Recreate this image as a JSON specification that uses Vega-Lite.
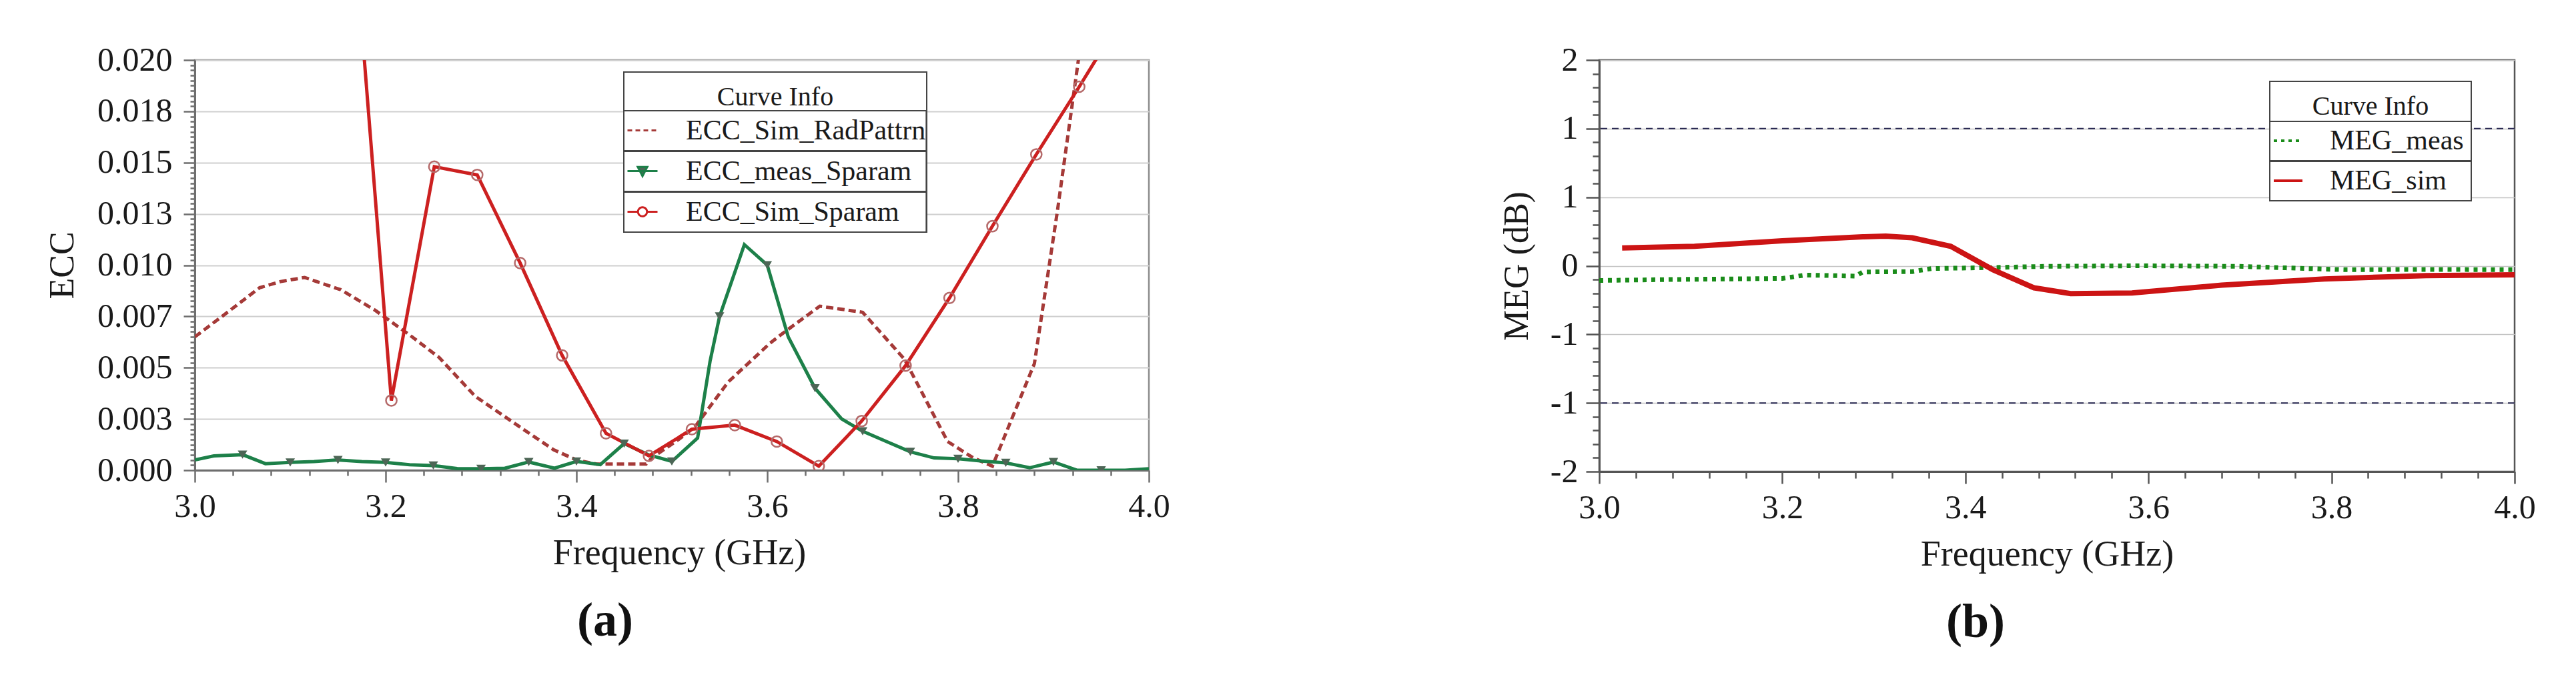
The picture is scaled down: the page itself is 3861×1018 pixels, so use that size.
{
  "$schema": "https://vega.github.io/schema/vega-lite/v6.json",
  "background": "white",
  "padding": {"left": 66, "top": 63, "right": 5, "bottom": 5},
  "spacing": 491,
  "config": {
    "font": "Liberation Serif",
    "axis": {
      "labelFont": "Liberation Serif", "titleFont": "Liberation Serif",
      "labelColor": "#1a1a1a", "titleColor": "#1a1a1a", "titleFontWeight": "normal",
      "labelOverlap": false, "labelFlush": false,
      "domainColor": "#6e6e6e", "domainWidth": 3, "tickColor": "#6e6e6e", "tickWidth": 2.5,
      "gridColor": "#cfcfcf", "gridWidth": 2
    },
    "legend": {
      "labelFont": "Liberation Serif", "titleFont": "Liberation Serif",
      "titleFontWeight": "normal", "labelColor": "#1a1a1a", "titleColor": "#1a1a1a",
      "labelLimit": 0, "titleLimit": 0
    },
    "title": {"font": "Liberation Serif"}
  },
  "datasets": {
    "ecc": [
      {"series": "ECC_Sim_RadPattrn", "f": 3.0, "v": 0.0065},
      {"series": "ECC_Sim_RadPattrn", "f": 3.037, "v": 0.0078},
      {"series": "ECC_Sim_RadPattrn", "f": 3.068, "v": 0.0089},
      {"series": "ECC_Sim_RadPattrn", "f": 3.09, "v": 0.0092},
      {"series": "ECC_Sim_RadPattrn", "f": 3.115, "v": 0.0094},
      {"series": "ECC_Sim_RadPattrn", "f": 3.153, "v": 0.0088},
      {"series": "ECC_Sim_RadPattrn", "f": 3.189, "v": 0.0078},
      {"series": "ECC_Sim_RadPattrn", "f": 3.225, "v": 0.0066},
      {"series": "ECC_Sim_RadPattrn", "f": 3.256, "v": 0.0055},
      {"series": "ECC_Sim_RadPattrn", "f": 3.294, "v": 0.0036},
      {"series": "ECC_Sim_RadPattrn", "f": 3.341, "v": 0.0021},
      {"series": "ECC_Sim_RadPattrn", "f": 3.376, "v": 0.0010},
      {"series": "ECC_Sim_RadPattrn", "f": 3.4, "v": 0.0005},
      {"series": "ECC_Sim_RadPattrn", "f": 3.421, "v": 0.0003},
      {"series": "ECC_Sim_RadPattrn", "f": 3.473, "v": 0.0003},
      {"series": "ECC_Sim_RadPattrn", "f": 3.479, "v": 0.0006},
      {"series": "ECC_Sim_RadPattrn", "f": 3.507, "v": 0.0015},
      {"series": "ECC_Sim_RadPattrn", "f": 3.524, "v": 0.0021},
      {"series": "ECC_Sim_RadPattrn", "f": 3.559, "v": 0.0043},
      {"series": "ECC_Sim_RadPattrn", "f": 3.603, "v": 0.0062},
      {"series": "ECC_Sim_RadPattrn", "f": 3.617, "v": 0.0067},
      {"series": "ECC_Sim_RadPattrn", "f": 3.655, "v": 0.0080},
      {"series": "ECC_Sim_RadPattrn", "f": 3.7, "v": 0.0077},
      {"series": "ECC_Sim_RadPattrn", "f": 3.744, "v": 0.0054},
      {"series": "ECC_Sim_RadPattrn", "f": 3.789, "v": 0.0014},
      {"series": "ECC_Sim_RadPattrn", "f": 3.816, "v": 0.0006},
      {"series": "ECC_Sim_RadPattrn", "f": 3.836, "v": 0.0002},
      {"series": "ECC_Sim_RadPattrn", "f": 3.88, "v": 0.0052},
      {"series": "ECC_Sim_RadPattrn", "f": 3.904, "v": 0.0126},
      {"series": "ECC_Sim_RadPattrn", "f": 3.95, "v": 0.028},
      {"series": "ECC_Sim_RadPattrn", "f": 4.0, "v": 0.045},

      {"series": "ECC_meas_Sparam", "f": 3.0, "v": 0.0005},
      {"series": "ECC_meas_Sparam", "f": 3.02, "v": 0.0007},
      {"series": "ECC_meas_Sparam", "f": 3.05, "v": 0.00076},
      {"series": "ECC_meas_Sparam", "f": 3.074, "v": 0.00032},
      {"series": "ECC_meas_Sparam", "f": 3.1, "v": 0.00038},
      {"series": "ECC_meas_Sparam", "f": 3.125, "v": 0.00042},
      {"series": "ECC_meas_Sparam", "f": 3.15, "v": 0.0005},
      {"series": "ECC_meas_Sparam", "f": 3.175, "v": 0.00042},
      {"series": "ECC_meas_Sparam", "f": 3.2, "v": 0.00038},
      {"series": "ECC_meas_Sparam", "f": 3.225, "v": 0.00027},
      {"series": "ECC_meas_Sparam", "f": 3.25, "v": 0.00023},
      {"series": "ECC_meas_Sparam", "f": 3.275, "v": 0.00008},
      {"series": "ECC_meas_Sparam", "f": 3.3, "v": 0.00007},
      {"series": "ECC_meas_Sparam", "f": 3.325, "v": 0.0001},
      {"series": "ECC_meas_Sparam", "f": 3.35, "v": 0.0004},
      {"series": "ECC_meas_Sparam", "f": 3.377, "v": 0.0001},
      {"series": "ECC_meas_Sparam", "f": 3.4, "v": 0.00043},
      {"series": "ECC_meas_Sparam", "f": 3.425, "v": 0.00027},
      {"series": "ECC_meas_Sparam", "f": 3.45, "v": 0.0013},
      {"series": "ECC_meas_Sparam", "f": 3.475, "v": 0.00076},
      {"series": "ECC_meas_Sparam", "f": 3.5, "v": 0.00043},
      {"series": "ECC_meas_Sparam", "f": 3.527, "v": 0.00157},
      {"series": "ECC_meas_Sparam", "f": 3.54, "v": 0.0053},
      {"series": "ECC_meas_Sparam", "f": 3.55, "v": 0.0075},
      {"series": "ECC_meas_Sparam", "f": 3.576, "v": 0.0110},
      {"series": "ECC_meas_Sparam", "f": 3.6, "v": 0.0100},
      {"series": "ECC_meas_Sparam", "f": 3.622, "v": 0.0065},
      {"series": "ECC_meas_Sparam", "f": 3.65, "v": 0.0040},
      {"series": "ECC_meas_Sparam", "f": 3.678, "v": 0.0025},
      {"series": "ECC_meas_Sparam", "f": 3.7, "v": 0.0019},
      {"series": "ECC_meas_Sparam", "f": 3.725, "v": 0.0014},
      {"series": "ECC_meas_Sparam", "f": 3.75, "v": 0.0009},
      {"series": "ECC_meas_Sparam", "f": 3.775, "v": 0.0006},
      {"series": "ECC_meas_Sparam", "f": 3.8, "v": 0.00056},
      {"series": "ECC_meas_Sparam", "f": 3.825, "v": 0.00045},
      {"series": "ECC_meas_Sparam", "f": 3.85, "v": 0.00036},
      {"series": "ECC_meas_Sparam", "f": 3.875, "v": 0.00012},
      {"series": "ECC_meas_Sparam", "f": 3.9, "v": 0.0004},
      {"series": "ECC_meas_Sparam", "f": 3.925, "v": 0.0},
      {"series": "ECC_meas_Sparam", "f": 3.95, "v": 0.0},
      {"series": "ECC_meas_Sparam", "f": 3.975, "v": 0.0},
      {"series": "ECC_meas_Sparam", "f": 4.0, "v": 0.00007},

      {"series": "ECC_Sim_Sparam", "f": 3.161, "v": 0.0298},
      {"series": "ECC_Sim_Sparam", "f": 3.206, "v": 0.0034},
      {"series": "ECC_Sim_Sparam", "f": 3.251, "v": 0.0148},
      {"series": "ECC_Sim_Sparam", "f": 3.296, "v": 0.0144},
      {"series": "ECC_Sim_Sparam", "f": 3.341, "v": 0.0101},
      {"series": "ECC_Sim_Sparam", "f": 3.385, "v": 0.0056},
      {"series": "ECC_Sim_Sparam", "f": 3.431, "v": 0.0018},
      {"series": "ECC_Sim_Sparam", "f": 3.476, "v": 0.0007},
      {"series": "ECC_Sim_Sparam", "f": 3.521, "v": 0.0020},
      {"series": "ECC_Sim_Sparam", "f": 3.566, "v": 0.0022},
      {"series": "ECC_Sim_Sparam", "f": 3.61, "v": 0.0014},
      {"series": "ECC_Sim_Sparam", "f": 3.654, "v": 0.0002},
      {"series": "ECC_Sim_Sparam", "f": 3.699, "v": 0.0024},
      {"series": "ECC_Sim_Sparam", "f": 3.745, "v": 0.0051},
      {"series": "ECC_Sim_Sparam", "f": 3.791, "v": 0.0084},
      {"series": "ECC_Sim_Sparam", "f": 3.836, "v": 0.0119},
      {"series": "ECC_Sim_Sparam", "f": 3.882, "v": 0.0154},
      {"series": "ECC_Sim_Sparam", "f": 3.927, "v": 0.0187},
      {"series": "ECC_Sim_Sparam", "f": 3.972, "v": 0.0221}
    ],
    "meg": [
      {"series": "MEG_meas", "f": 3.0, "v": -0.143},
      {"series": "MEG_meas", "f": 3.079, "v": -0.133},
      {"series": "MEG_meas", "f": 3.2, "v": -0.123},
      {"series": "MEG_meas", "f": 3.225, "v": -0.09},
      {"series": "MEG_meas", "f": 3.28, "v": -0.1},
      {"series": "MEG_meas", "f": 3.288, "v": -0.06},
      {"series": "MEG_meas", "f": 3.342, "v": -0.056},
      {"series": "MEG_meas", "f": 3.363, "v": -0.027},
      {"series": "MEG_meas", "f": 3.43, "v": -0.017},
      {"series": "MEG_meas", "f": 3.488, "v": -0.005},
      {"series": "MEG_meas", "f": 3.591, "v": 0.0},
      {"series": "MEG_meas", "f": 3.698, "v": -0.005},
      {"series": "MEG_meas", "f": 3.75, "v": -0.02},
      {"series": "MEG_meas", "f": 3.814, "v": -0.038},
      {"series": "MEG_meas", "f": 3.9, "v": -0.035},
      {"series": "MEG_meas", "f": 4.0, "v": -0.038},
      {"series": "MEG_sim", "f": 3.025, "v": 0.173},
      {"series": "MEG_sim", "f": 3.104, "v": 0.189},
      {"series": "MEG_sim", "f": 3.2, "v": 0.243},
      {"series": "MEG_sim", "f": 3.288, "v": 0.282},
      {"series": "MEG_sim", "f": 3.313, "v": 0.289},
      {"series": "MEG_sim", "f": 3.342, "v": 0.272},
      {"series": "MEG_sim", "f": 3.384, "v": 0.189},
      {"series": "MEG_sim", "f": 3.43, "v": -0.038},
      {"series": "MEG_sim", "f": 3.475, "v": -0.214},
      {"series": "MEG_sim", "f": 3.515, "v": -0.271},
      {"series": "MEG_sim", "f": 3.582, "v": -0.264},
      {"series": "MEG_sim", "f": 3.68, "v": -0.188},
      {"series": "MEG_sim", "f": 3.792, "v": -0.128},
      {"series": "MEG_sim", "f": 3.903, "v": -0.095},
      {"series": "MEG_sim", "f": 4.0, "v": -0.088}
    ],
    "limits": [
      {"lim": 1.33333},
      {"lim": -1.33333}
    ]
  },
  "hconcat": [
    {
      "width": 1430,
      "height": 615,
      "view": {"stroke": "#8c8c8c", "strokeWidth": 2.5},
      "title": {"text": "(a)", "orient": "bottom", "anchor": "middle", "dx": -100, "offset": 40, "fontSize": 72, "fontWeight": "bold", "color": "#111", "font": "Liberation Serif"},
      "encoding": {
        "x": {
          "field": "f", "type": "quantitative", "title": "Frequency (GHz)",
          "scale": {"domain": [3, 4], "nice": false, "zero": false},
          "axis": {
            "values": [3, 3.04, 3.08, 3.12, 3.16, 3.2, 3.24, 3.28, 3.32, 3.36, 3.4, 3.44, 3.48, 3.52, 3.56, 3.6, 3.64, 3.68, 3.72, 3.76, 3.8, 3.84, 3.88, 3.92, 3.96, 4],
            "labelExpr": "abs(datum.value*5 - round(datum.value*5)) < 0.001 ? format(datum.value, '.1f') : ''",
            "tickSize": {"condition": {"test": "abs(datum.value*5 - round(datum.value*5)) < 0.001", "value": 18}, "value": 8},
            "grid": false,
            "labelFont": "Liberation Serif", "titleFont": "Liberation Serif",
            "labelFontSize": 50, "labelPadding": 11,
            "titleFontSize": 54, "titlePadding": 18, "titleX": 726
          }
        },
        "y": {
          "field": "v", "type": "quantitative", "title": "ECC",
          "scale": {"domain": [0, 0.02], "nice": false},
          "axis": {
            "values": [0,0.00025,0.0005,0.00075,0.001,0.00125,0.0015,0.00175,0.002,0.00225,0.0025,0.00275,0.003,0.00325,0.0035,0.00375,0.004,0.00425,0.0045,0.00475,0.005,0.00525,0.0055,0.00575,0.006,0.00625,0.0065,0.00675,0.007,0.00725,0.0075,0.00775,0.008,0.00825,0.0085,0.00875,0.009,0.00925,0.0095,0.00975,0.01,0.01025,0.0105,0.01075,0.011,0.01125,0.0115,0.01175,0.012,0.01225,0.0125,0.01275,0.013,0.01325,0.0135,0.01375,0.014,0.01425,0.0145,0.01475,0.015,0.01525,0.0155,0.01575,0.016,0.01625,0.0165,0.01675,0.017,0.01725,0.0175,0.01775,0.018,0.01825,0.0185,0.01875,0.019,0.01925,0.0195,0.01975,0.02],
            "labelExpr": "abs(datum.value*400 - round(datum.value*400)) < 0.01 ? format(datum.value, '.3f') : ''",
            "tickSize": {"condition": {"test": "abs(datum.value*400 - round(datum.value*400)) < 0.01", "value": 17}, "value": 7},
            "gridOpacity": {"condition": {"test": "abs(datum.value*400 - round(datum.value*400)) < 0.01", "value": 1}, "value": 0},
            "grid": true,
            "labelFont": "Liberation Serif", "titleFont": "Liberation Serif",
            "labelFontSize": 50, "labelPadding": 17,
            "titleFontSize": 52, "titlePadding": 25
          }
        }
      },
      "layer": [
        {
          "data": {"name": "ecc"},
          "transform": [{"filter": "datum.series == 'ECC_Sim_RadPattrn'"}],
          "mark": {"type": "line", "strokeWidth": 5, "strokeDash": [11, 6], "clip": true},
          "encoding": {
            "color": {
              "field": "series", "type": "nominal",
              "scale": {"domain": ["ECC_Sim_RadPattrn", "ECC_meas_Sparam", "ECC_Sim_Sparam"], "range": ["#a53a38", "#1d8049", "#cc2020"]},
              "legend": {
                "title": ["", "Curve Info"], "titleLineHeight": 18,
                "orient": "none", "legendX": 643, "legendY": 18,
                "direction": "vertical", "titleAnchor": "middle",
                "titleFont": "Liberation Serif", "labelFont": "Liberation Serif",
                "titleFontSize": 40, "labelFontSize": 42, "titlePadding": 0,
                "clipHeight": 59, "rowPadding": 0, "columnPadding": 0, "padding": 0,
                "symbolOffset": 4, "labelOffset": 41,
                "symbolSize": 2025, "symbolStrokeWidth": 3,
                "strokeColor": "#444", "fillColor": "white",
                "encode": {
                  "legend": {
                    "update": {"strokeWidth": {"value": 2}}
                  },
                  "entries": {
                    "update": {
                      "width": {"value": 448},
                      "stroke": {"value": "#444"},
                      "strokeWidth": {"value": 2},
                      "fill": {"value": "transparent"}
                    }
                  },
                  "symbols": {
                    "update": {
                      "shape": {"signal": "datum.value == 'ECC_meas_Sparam' ? 'M-1,0H1M-0.32,-0.28H0.32L0,0.34Z' : (datum.value == 'ECC_Sim_Sparam' ? 'M-1,0H-0.3M0.3,0H1M-0.3,0A0.3,0.3 0 1,1 0.3,0A0.3,0.3 0 1,1 -0.3,0' : 'M-1,0H1')"},
                      "fill": {"signal": "datum.value == 'ECC_meas_Sparam' ? '#4d6656' : 'transparent'"},
                      "strokeDash": {"signal": "datum.value == 'ECC_Sim_RadPattrn' ? [7,5] : [1,0]"}
                    }
                  }
                }
              }
            }
          }
        },
        {
          "data": {"name": "ecc"},
          "transform": [{"filter": "datum.series == 'ECC_meas_Sparam'"}],
          "mark": {"type": "line", "strokeWidth": 5, "clip": true},
          "encoding": {"color": {"field": "series", "type": "nominal"}}
        },
        {
          "data": {"name": "ecc"},
          "transform": [{"filter": "datum.series == 'ECC_Sim_Sparam'"}],
          "mark": {"type": "line", "strokeWidth": 5, "clip": true},
          "encoding": {"color": {"field": "series", "type": "nominal"}}
        },
        {
          "data": {"name": "ecc"},
          "transform": [{"filter": "datum.series == 'ECC_meas_Sparam' && datum.f > 3.01 && datum.f < 3.99 && abs(datum.f*20 - round(datum.f*20)) < 0.01"}],
          "mark": {"type": "point", "shape": "triangle-down", "size": 200, "filled": true, "color": "#4d6656", "opacity": 1, "clip": true}
        },
        {
          "data": {"name": "ecc"},
          "transform": [{"filter": "datum.series == 'ECC_Sim_Sparam' && datum.v <= 0.0201"}],
          "mark": {"type": "point", "shape": "circle", "size": 260, "filled": false, "stroke": "#b56a6a", "strokeWidth": 2.5, "opacity": 1, "clip": true}
        }
      ]
    },
    {
      "width": 1372,
      "height": 617,
      "view": {"stroke": "#555555", "strokeWidth": 2.5},
      "title": {"text": "(b)", "orient": "bottom", "anchor": "middle", "dx": -122, "offset": 40, "fontSize": 72, "fontWeight": "bold", "color": "#111", "font": "Liberation Serif"},
      "encoding": {
        "x": {
          "field": "f", "type": "quantitative", "title": "Frequency (GHz)",
          "scale": {"domain": [3, 4], "nice": false, "zero": false},
          "axis": {
            "values": [3, 3.04, 3.08, 3.12, 3.16, 3.2, 3.24, 3.28, 3.32, 3.36, 3.4, 3.44, 3.48, 3.52, 3.56, 3.6, 3.64, 3.68, 3.72, 3.76, 3.8, 3.84, 3.88, 3.92, 3.96, 4],
            "labelExpr": "abs(datum.value*5 - round(datum.value*5)) < 0.001 ? format(datum.value, '.1f') : ''",
            "tickSize": {"condition": {"test": "abs(datum.value*5 - round(datum.value*5)) < 0.001", "value": 18}, "value": 10},
            "grid": false, "domainColor": "#555", "tickColor": "#555",
            "labelFont": "Liberation Serif", "titleFont": "Liberation Serif",
            "labelFontSize": 50, "labelPadding": 11,
            "titleFontSize": 54, "titlePadding": 18, "titleX": 671
          }
        },
        "y": {
          "field": "v", "type": "quantitative", "title": "MEG (dB)",
          "scale": {"domain": [-2, 2], "nice": false, "zero": false},
          "axis": {
            "values": [-2, -1.86667, -1.73333, -1.6, -1.46667, -1.33333, -1.2, -1.06667, -0.93333, -0.8, -0.66667, -0.53333, -0.4, -0.26667, -0.13333, 0, 0.13333, 0.26667, 0.4, 0.53333, 0.66667, 0.8, 0.93333, 1.06667, 1.2, 1.33333, 1.46667, 1.6, 1.73333, 1.86667, 2],
            "labelExpr": "abs(datum.value*1.5 - round(datum.value*1.5)) < 0.001 ? (datum.value < -0.1 ? '-' + format(-datum.value, '.0f') : format(datum.value, '.0f')) : ''",
            "tickSize": {"condition": {"test": "abs(datum.value*1.5 - round(datum.value*1.5)) < 0.001", "value": 20}, "value": 10},
            "gridOpacity": {"condition": {"test": "abs(datum.value*1.5 - round(datum.value*1.5)) < 0.001", "value": 1}, "value": 0},
            "grid": true, "gridColor": "#c4c4c4", "gridWidth": 1.5, "domainColor": "#555", "tickColor": "#555",
            "labelFont": "Liberation Serif", "titleFont": "Liberation Serif",
            "labelFontSize": 50, "labelPadding": 12,
            "titleFontSize": 52, "titlePadding": 23
          }
        }
      },
      "layer": [
        {
          "data": {"name": "meg"},
          "transform": [{"filter": "datum.series == 'MEG_meas'"}],
          "mark": {"type": "line", "strokeWidth": 7, "strokeDash": [6, 7], "clip": true},
          "encoding": {
            "color": {
              "field": "series", "type": "nominal",
              "scale": {"domain": ["MEG_meas", "MEG_sim"], "range": ["#1a8c1a", "#cc1414"]},
              "legend": {
                "title": ["", "Curve Info"], "titleLineHeight": 18,
                "orient": "none", "legendX": 1005, "legendY": 32,
                "direction": "vertical", "titleAnchor": "middle",
                "titleFont": "Liberation Serif", "labelFont": "Liberation Serif",
                "titleFontSize": 40, "labelFontSize": 42, "titlePadding": 2,
                "clipHeight": 58, "rowPadding": 0, "columnPadding": 0, "padding": 0,
                "symbolOffset": 4, "labelOffset": 39,
                "symbolSize": 1849, "symbolStrokeWidth": 4,
                "strokeColor": "#444", "fillColor": "white",
                "encode": {
                  "legend": {
                    "update": {"strokeWidth": {"value": 2}}
                  },
                  "entries": {
                    "update": {
                      "width": {"value": 301},
                      "stroke": {"value": "#444"},
                      "strokeWidth": {"value": 2},
                      "fill": {"value": "transparent"}
                    }
                  },
                  "symbols": {
                    "update": {
                      "shape": {"value": "M-1,0H1"},
                      "strokeDash": {"signal": "datum.value == 'MEG_meas' ? [5,6] : [1,0]"}
                    }
                  }
                }
              }
            }
          }
        },
        {
          "data": {"name": "meg"},
          "transform": [{"filter": "datum.series == 'MEG_sim'"}],
          "mark": {"type": "line", "strokeWidth": 8, "clip": true},
          "encoding": {"color": {"field": "series", "type": "nominal"}}
        },
        {
          "data": {"name": "limits"},
          "mark": {"type": "rule", "color": "#26264f", "strokeWidth": 2, "strokeDash": [10, 7]},
          "encoding": {
            "x": null,
            "y": {"field": "lim", "type": "quantitative", "title": "MEG (dB)"}
          }
        }
      ]
    }
  ],
  "resolve": {"scale": {"color": "independent"}, "legend": {"color": "independent"}}
}
